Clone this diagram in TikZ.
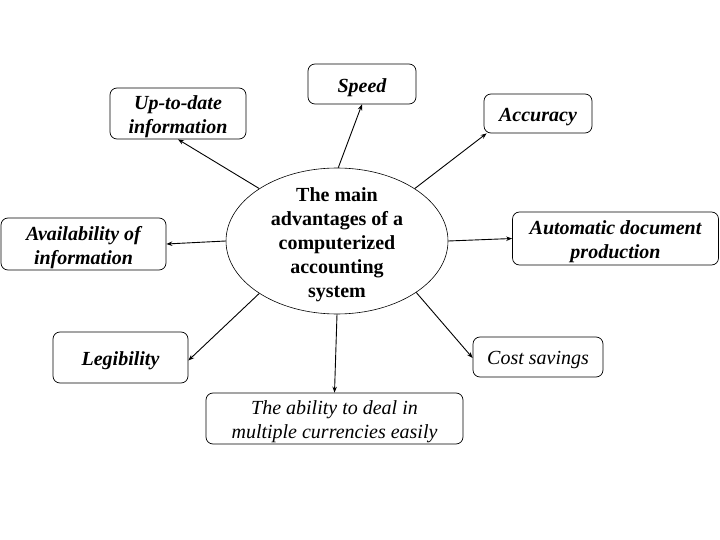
\documentclass[tikz,border=0pt]{standalone}
\usepackage{fontspec}
\setmainfont{Liberation Serif}
\usetikzlibrary{arrows.meta,shapes.geometric}
\begin{document}
\begin{tikzpicture}[x=1pt,y=-1pt,
  lbl/.style={draw=black, line width=0.7pt, rounded corners=7pt, inner sep=0pt},
  bt/.style={align=center, inner sep=0pt, yshift=-3.5pt, font=\fontsize{20}{24}\selectfont\bfseries\itshape},
  rt/.style={bt, font=\fontsize{20}{24}\selectfont\itshape},
  ht/.style={align=center, inner sep=0pt, yshift=-3.5pt, font=\fontsize{20}{24}\selectfont\bfseries},
  hub/.style={draw=black, line width=0.6pt, ellipse, inner sep=0pt,
    minimum width=222pt, minimum height=146pt},
  conn/.style={line width=0.9pt, -{Stealth[length=6pt,width=4.5pt]}}]
\useasboundingbox (0,0) rectangle (720,540);
\fill[white] (0,0) rectangle (720,540);
\node[hub, label={[ht]center:{The main\\advantages of a\\computerized\\accounting\\system}}] (c) at (337,241) {};
\node[lbl, minimum width=136pt, minimum height=51pt, label={[bt]center:{Up-to-date\\information}}] (up) at (178,113.5) {};
\node[lbl, minimum width=108pt, minimum height=40pt, label={[bt]center:{Speed}}] (speed) at (362,84) {};
\node[lbl, minimum width=108pt, minimum height=39pt, label={[bt]center:{Accuracy}}] (acc) at (538,113.5) {};
\node[lbl, minimum width=165pt, minimum height=52pt, label={[bt]center:{Availability of\\information}}] (avail) at (83.5,244) {};
\node[lbl, minimum width=206pt, minimum height=53pt, label={[bt]center:{Automatic document\\production}}] (auto) at (615.5,238.5) {};
\node[lbl, minimum width=135pt, minimum height=51pt, label={[bt]center:{Legibility}}] (leg) at (120.5,357.5) {};
\node[lbl, minimum width=130pt, minimum height=40pt, label={[rt]center:{Cost savings}}] (cost) at (538,357) {};
\node[lbl, minimum width=257pt, minimum height=51pt, label={[rt]center:{The ability to deal in\\multiple currencies easily}}] (abil) at (334.5,418.5) {};
\draw[conn] (c.146) -- (up.south);
\draw[conn] (c.89) -- (speed.south);
\draw[conn] (c.34) -- ([xshift=3pt]acc.south west);
\draw[conn] (c.180) -- (avail.east);
\draw[conn] (c.0) -- (auto.west);
\draw[conn] (c.214) -- ([yshift=-3pt]leg.east);
\draw[conn] (c.-33) -- ([yshift=-1pt]cost.west);
\draw[conn] (c.270) -- (abil.north);
\end{tikzpicture}
\end{document}
